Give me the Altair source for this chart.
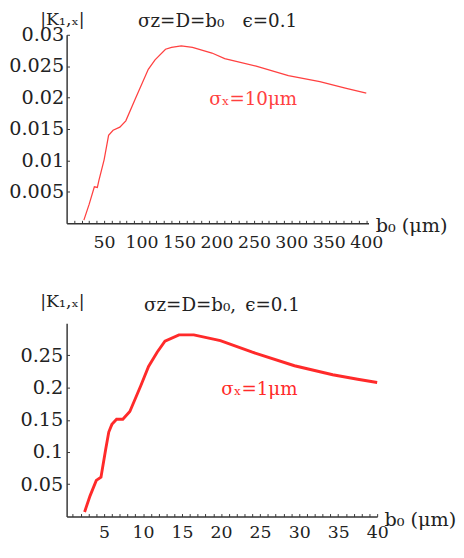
import altair as alt
import pandas as pd

# ---- data ----
top_b = [23, 30, 37, 41, 43, 50, 56, 62, 71, 79, 92, 109, 118, 132, 140, 153, 168, 194, 211, 253, 296, 338, 372, 400]
top_k = [0.0005, 0.003, 0.0058, 0.0057, 0.0068, 0.0101, 0.0140, 0.0148, 0.0153, 0.0163, 0.0199, 0.0245,
         0.0260, 0.0277, 0.0280, 0.02825, 0.0280, 0.0271, 0.0262, 0.0250, 0.0235, 0.02255, 0.0215, 0.0207]

bot_b = [2.5, 3.2, 4.0, 4.6, 5.2, 5.6, 6.0, 6.6, 7.4, 8.3, 9.7, 10.7, 11.8, 12.8, 14.6, 16.5,
         19.9, 24.0, 29.4, 34.3, 37.5, 40]
bot_k = [0.007, 0.032, 0.056, 0.061, 0.104, 0.131, 0.143, 0.151, 0.151, 0.163, 0.203, 0.233,
         0.255, 0.272, 0.282, 0.282, 0.273, 0.255, 0.234, 0.220, 0.213, 0.208]

top_xticks = [50, 100, 150, 200, 250, 300, 350, 400]
top_yticks = [0.005, 0.01, 0.015, 0.02, 0.025, 0.03]
bot_xticks = [5, 10, 15, 20, 25, 30, 35, 40]
bot_yticks = [0.05, 0.1, 0.15, 0.2, 0.25]

top_minor = list(range(10, 401, 10))
bot_minor = list(range(1, 41, 1))

top_title = "σz=D=b₀\u2003ϵ=0.1"
bot_title = "σz=D=b₀,\u2002ϵ=0.1"
top_note = ["σₓ=10μm"]
bot_note = ["σₓ=1μm"]
top_note_pos = ([249], [0.0197])
bot_note_pos = ([24.9], [0.198])

FONT = "DejaVu Serif"
AX = "#333333"


def panel(b, k, xdom, ydom, W, H, xlab, ylab, xminor, color, lw, note, note_pos,
          title, title_dy, ylpad, ytx, yty, xlpad):
    df = pd.DataFrame({"b": b, "k": k})
    xs = alt.Scale(domain=xdom, nice=False, zero=False)
    ys = alt.Scale(domain=ydom, nice=False, zero=False)
    base = alt.Chart(df)
    main = base.mark_line(color=color, strokeWidth=lw).encode(
        x=alt.X("b:Q", scale=xs, axis=alt.Axis(
            orient="bottom", values=xlab, ticks=False, domainColor=AX, domainWidth=1.5,
            labelFont=FONT, labelFontSize=18, labelColor="#222", labelPadding=xlpad,
            labelFlush=False, labelOverlap=False, grid=False,
            title="b₀ (μm)", titleX=W + 7, titleY=9, titleAngle=0, titleAlign="left",
            titleBaseline="alphabetic", titleFont=FONT, titleFontSize=20,
            titleFontWeight="normal", titleColor="#222")),
        y=alt.Y("k:Q", scale=ys, axis=alt.Axis(
            orient="left", values=ylab, ticks=False, domainColor=AX, domainWidth=1.5,
            format="~g", labelFont=FONT, labelFontSize=20, labelColor="#222",
            labelPadding=ylpad, labelFlush=False, labelOverlap=False, grid=False,
            title="|K₁,ₓ|", titleX=ytx, titleY=yty, titleAngle=0, titleAlign="left",
            titleBaseline="top", titleFont=FONT, titleFontSize=18,
            titleFontWeight="normal", titleColor="#222")),
    )
    ticks = base.mark_line(opacity=0).encode(
        x=alt.X("b:Q", scale=xs, axis=alt.Axis(
            orient="top", offset=-H, values=xminor, labels=False, domain=False,
            tickSize=3, tickColor=AX, grid=False, title=None)),
        y=alt.Y("k:Q", scale=ys, axis=alt.Axis(
            orient="right", offset=-W, values=ylab, labels=False, domain=False,
            tickSize=3, tickColor=AX, grid=False, title=None)),
    )
    ndf = pd.DataFrame({"b": note_pos[0], "k": note_pos[1], "t": note})
    txt = alt.Chart(ndf).mark_text(font=FONT, fontSize=19, color=color, baseline="middle",
                                   align="center").encode(
        x=alt.X("b:Q", scale=xs, axis=None),
        y=alt.Y("k:Q", scale=ys, axis=None),
        text="t:N",
    )
    return alt.layer(main, ticks, txt).properties(
        width=W, height=H,
        title=alt.TitleParams(title, anchor="middle", offset=0, dy=title_dy,
                              baseline="top", font=FONT, fontSize=19,
                              fontWeight="normal", color="#222"),
    )


top = panel(top_b, top_k, [0, 403], [0, 0.03], 314, 196, top_xticks, top_yticks, top_minor,
            "#ff4040", 1.3, top_note, top_note_pos, top_title, 21, 3, -28, -25, 11)
bot = panel(bot_b, bot_k, [0.2, 40], [0, 0.3], 323, 201, bot_xticks, bot_yticks, bot_minor,
            "#ff2a2a", 3, bot_note, bot_note_pos, bot_title, 22, 4, -28, -31, 8)

chart = alt.concat(top, bot, columns=1, spacing=44, align="none").properties(
    padding={"top": -8, "left": 0, "right": 0, "bottom": -2}, background="white"
).configure_view(stroke=None)

chart.save("out.html", embed_options={"renderer": "svg", "actions": False})
